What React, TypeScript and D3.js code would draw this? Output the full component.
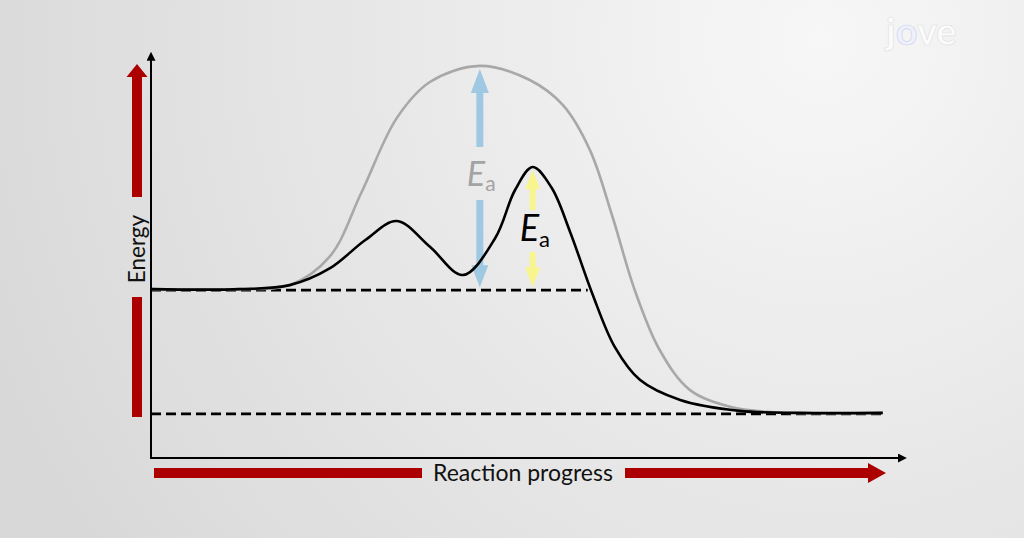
import { useEffect, useRef } from 'react';
import * as d3 from 'd3';

// Catalysed pathway (black, two humps)
const catalysedProgress = [0, 12.1, 18.9, 24.4, 29.2, 33.5, 38.0, 42.5, 46.9, 49.6, 52.0, 54.6, 57.1, 60.1, 63.2, 66.6, 72.1, 80.2, 88.4, 99.7];
const catalysedEnergy = [41.9, 41.9, 42.9, 47.1, 54.1, 58.8, 52.4, 45.4, 54.6, 66.5, 72.2, 67.0, 56.1, 40.9, 27.5, 19.4, 14.4, 11.7, 11.2, 11.2];

// Uncatalysed pathway (grey, single hump)
const uncatalysedProgress = [0, 12.1, 18.9, 24.4, 28.7, 33.5, 38.0, 44.8, 51.6, 56.1, 59.8, 62.8, 65.9, 69.3, 73.4, 78.9, 84.3, 99.7];
const uncatalysedEnergy = [41.9, 41.9, 42.9, 50.1, 66.0, 84.4, 93.3, 97.3, 93.8, 87.6, 76.4, 60.3, 41.7, 26.8, 16.9, 12.7, 11.4, 11.2];

const reactantLevel = 41.9;
const productLevel = 11.2;
const reactantLineEnd = 59.5;

const xLabel = 'Reaction progress';
const yLabel = 'Energy';
const eaLabel = ['E', 'a'];

const RED = '#ac0000';

function vArrow(x: number, yTail: number, yTip: number, shaft: number, head: number, headLen: number) {
  const dir = Math.sign(yTip - yTail);
  const yb = yTip - dir * headLen;
  return `M${x - shaft / 2},${yTail}L${x - shaft / 2},${yb}L${x - head / 2},${yb}L${x},${yTip}L${x + head / 2},${yb}L${x + shaft / 2},${yb}L${x + shaft / 2},${yTail}Z`;
}

function hArrow(y: number, xTail: number, xTip: number, shaft: number, head: number, headLen: number) {
  const xb = xTip - headLen;
  return `M${xTail},${y - shaft / 2}L${xb},${y - shaft / 2}L${xb},${y - head / 2}L${xTip},${y}L${xb},${y + head / 2}L${xb},${y + shaft / 2}L${xTail},${y + shaft / 2}Z`;
}

export default function App() {
  const svgRef = useRef<SVGSVGElement | null>(null);

  const width = 1024;
  const height = 538;

  useEffect(() => {
    const svg = d3.select(svgRef.current);
    svg.selectAll('*').remove();

    const x = d3.scaleLinear().domain([0, 100]).range([151, 885]);
    const y = d3.scaleLinear().domain([0, 100]).range([458, 55]);

    // background gradient
    const defs = svg.append('defs');
    const grad = defs
      .append('radialGradient')
      .attr('id', 'bg')
      .attr('gradientUnits', 'userSpaceOnUse')
      .attr('cx', 820)
      .attr('cy', 40)
      .attr('r', 900);
    grad.append('stop').attr('offset', '0%').attr('stop-color', '#f7f7f7');
    grad.append('stop').attr('offset', '55%').attr('stop-color', '#e6e6e6');
    grad.append('stop').attr('offset', '100%').attr('stop-color', '#d8d8d8');

    defs
      .append('marker')
      .attr('id', 'tip')
      .attr('viewBox', '0 0 10 10')
      .attr('refX', 2)
      .attr('refY', 5)
      .attr('markerWidth', 4.5)
      .attr('markerHeight', 4.5)
      .attr('orient', 'auto')
      .append('path')
      .attr('d', 'M0,0L10,5L0,10Z')
      .attr('fill', '#000');

    svg.append('rect').attr('width', width).attr('height', height).attr('fill', 'url(#bg)');

    // jove logo (faint)
    const logo = svg.append('text')
      .attr('x', 886)
      .attr('y', 45)
      .attr('font-family', 'Lato, sans-serif')
      .attr('font-weight', 700)
      .attr('font-size', 38)
      .attr('fill', '#fbfbfb')
      .attr('stroke', '#e0e0e0')
      .attr('stroke-width', 0.6);
    logo.append('tspan').text('j');
    logo.append('tspan').attr('fill', '#eef0fb').attr('stroke', '#ccd2ee').text('o');
    logo.append('tspan').text('ve');

    // dashed levels
    svg.append('line')
      .attr('x1', x(0)).attr('x2', x(reactantLineEnd))
      .attr('y1', y(reactantLevel) + 1).attr('y2', y(reactantLevel) + 1)
      .attr('stroke', '#000').attr('stroke-width', 2.8).attr('stroke-dasharray', '10,5');
    svg.append('line')
      .attr('x1', x(0)).attr('x2', x(100))
      .attr('y1', y(productLevel) + 1).attr('y2', y(productLevel) + 1)
      .attr('stroke', '#000').attr('stroke-width', 2.8).attr('stroke-dasharray', '10,5');

    const line = d3
      .line<[number, number]>()
      .x((d) => x(d[0]))
      .y((d) => y(d[1]))
      .curve(d3.curveCatmullRom.alpha(0.5));

    const grey = uncatalysedProgress.map((p, i) => [p, uncatalysedEnergy[i]] as [number, number]);
    const black = catalysedProgress.map((p, i) => [p, catalysedEnergy[i]] as [number, number]);

    svg.append('path')
      .datum(grey)
      .attr('d', line)
      .attr('fill', 'none')
      .attr('stroke', '#a8a8a8')
      .attr('stroke-width', 2.6);

    // blue Ea arrows (uncatalysed)
    const peakIdx = d3.maxIndex(uncatalysedEnergy);
    const bx = x(uncatalysedProgress[peakIdx]);
    const blueTop = y(uncatalysedEnergy[peakIdx]) + 3;
    const base = y(reactantLevel) - 2;
    svg.append('path').attr('d', vArrow(bx, 147, blueTop, 7, 18, 24)).attr('fill', '#9fc8e2');
    svg.append('path').attr('d', vArrow(bx, 200, base, 7, 17, 22)).attr('fill', '#9fc8e2');

    const gEa = svg.append('text')
      .attr('x', bx - 13)
      .attr('y', 186)
      .attr('font-family', 'Lato, sans-serif')
      .attr('fill', '#a3a3a3');
    gEa.append('tspan').attr('font-size', 34).attr('font-style', 'italic').text(eaLabel[0]);
    gEa.append('tspan').attr('font-size', 21).attr('dy', 5).text(eaLabel[1]);

    svg.append('path')
      .datum(black)
      .attr('d', line)
      .attr('fill', 'none')
      .attr('stroke', '#000')
      .attr('stroke-width', 2.6);

    // yellow Ea arrows (catalysed)
    const cIdx = d3.maxIndex(catalysedEnergy);
    const cx = x(catalysedProgress[cIdx]);
    const cTop = y(catalysedEnergy[cIdx]) + 3;
    svg.append('path').attr('d', vArrow(cx, 210, cTop, 6, 15, 19)).attr('fill', '#f8f48e');
    svg.append('path').attr('d', vArrow(cx, 252, base, 6, 15, 20)).attr('fill', '#f8f48e');

    const bEa = svg.append('text')
      .attr('x', cx - 13)
      .attr('y', 241)
      .attr('font-family', 'Lato, sans-serif')
      .attr('fill', '#000');
    bEa.append('tspan').attr('font-size', 36).attr('font-style', 'italic').text(eaLabel[0]);
    bEa.append('tspan').attr('font-size', 22).attr('dy', 6).text(eaLabel[1]);

    // axes
    svg.append('line')
      .attr('x1', x(0)).attr('y1', y(0))
      .attr('x2', x(0)).attr('y2', y(100) + 4)
      .attr('stroke', '#000').attr('stroke-width', 2)
      .attr('marker-end', 'url(#tip)');
    svg.append('line')
      .attr('x1', x(0) - 1).attr('y1', y(0))
      .attr('x2', x(102)).attr('y2', y(0))
      .attr('stroke', '#000').attr('stroke-width', 2)
      .attr('marker-end', 'url(#tip)');

    // red direction arrows
    svg.append('path').attr('d', vArrow(137, 197, 64, 10, 21, 13)).attr('fill', RED);
    svg.append('rect').attr('x', 132).attr('y', 297).attr('width', 10).attr('height', 120).attr('fill', RED);
    svg.append('text')
      .attr('transform', 'translate(145,249) rotate(-90)')
      .attr('text-anchor', 'middle')
      .attr('font-family', 'Lato, sans-serif')
      .attr('font-size', 22.5)
      .attr('fill', '#111')
      .text(yLabel);

    svg.append('rect').attr('x', 154).attr('y', 468).attr('width', 268).attr('height', 10).attr('fill', RED);
    svg.append('path').attr('d', hArrow(473, 625, 886, 10, 20, 18)).attr('fill', RED);
    svg.append('text')
      .attr('x', 523)
      .attr('y', 481)
      .attr('text-anchor', 'middle')
      .attr('font-family', 'Lato, sans-serif')
      .attr('font-size', 23)
      .attr('fill', '#111')
      .text(xLabel);
  }, []);

  return (
    <svg
      ref={svgRef}
      width={width}
      height={height}
      style={{ position: 'absolute', left: 0, top: 0 }}
    ></svg>
  );
}
